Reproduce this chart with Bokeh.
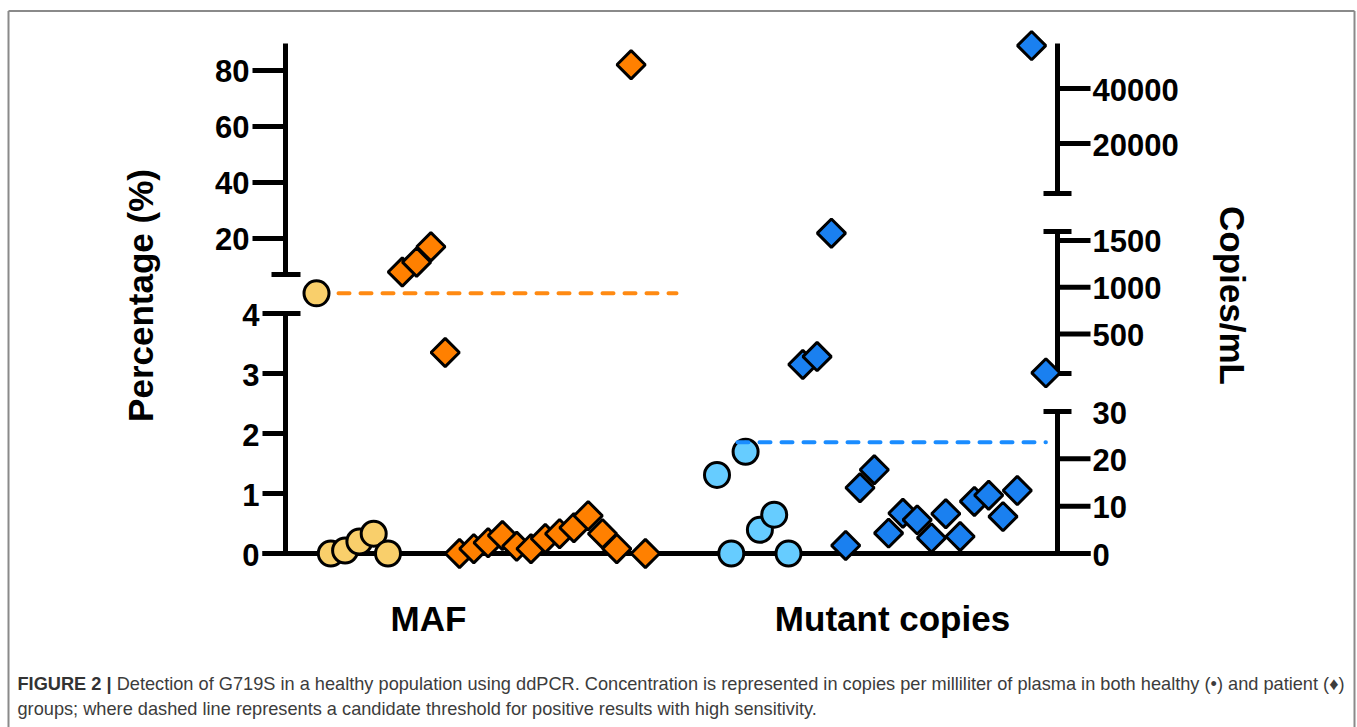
import numpy as np
from bokeh.plotting import figure
from bokeh.models import Range1d
from bokeh.core.properties import value
from bokeh.embed import file_html
from bokeh.resources import INLINE

# ---------------- data ----------------
maf_healthy = [5.6, 0.0, 0.05, 0.2, 0.33, 0.0]
maf_patient = [8.0, 11.5, 17.0, 3.35, 0.0, 0.08, 0.18, 0.3, 0.12, 0.08,
               0.25, 0.33, 0.43, 0.63, 0.33, 0.08, 82.0, 0.0]
copies_healthy = [16.6, 0.0, 21.5, 5.0, 8.2, 0.0]
copies_patient = [174, 259, 1578, 1.7, 13.9, 17.7, 4.3, 8.5, 7.1, 3.3,
                  8.4, 3.6, 11.0, 12.3, 7.8, 13.3, 55600, 85]
maf_threshold = 5.6
copies_threshold = 23.5
group_labels = ["MAF", "Mutant copies"]
left_ticks_low = [0, 1, 2, 3, 4]
left_ticks_high = [20, 40, 60, 80]
right_ticks_low = [0, 10, 20, 30]
right_ticks_mid = [500, 1000, 1500]
right_ticks_high = [20000, 40000]
left_title = "Percentage (%)"
right_title = "Copies/mL"
caption_bold = "FIGURE 2 |"
caption_line1 = ("Detection of G719S in a healthy population using ddPCR. Concentration is "
                 "represented in copies per milliliter of plasma in both healthy (\u2022) and patient (\u2666)")
caption_line2 = ("groups; where dashed line represents a candidate threshold for positive "
                 "results with high sensitivity.")

# ---------------- broken-axis scales (value -> page pixel) ----------------
LEFT_SEGMENTS = [(0, 4), (7.1, 89.6)]
LEFT_BREAK_VALS = [0, 4, 7.1, 89.6]
LEFT_BREAK_PX = [553, 313, 274, 43]
RIGHT_SEGMENTS = [(0, 30), (78, 1596), (1818, 56364)]
RIGHT_BREAK_VALS = [0, 30, 78, 1596, 1818, 56364]
RIGHT_BREAK_PX = [553, 411, 373, 231, 193, 43]


def ly(v):
    return np.interp(np.asarray(v, dtype=float), LEFT_BREAK_VALS, LEFT_BREAK_PX)


def ry(v):
    return np.interp(np.asarray(v, dtype=float), RIGHT_BREAK_VALS, RIGHT_BREAK_PX)


SLOT = 14.3
MAF_X0 = 316.0
COP_X0 = 716.5


def slots(x0, start, n):
    return [x0 + (start + i) * SLOT for i in range(n)]


W, H = 1357, 727
p = figure(width=W, height=H, x_range=Range1d(0, W), y_range=Range1d(H, 0),
           output_backend="svg", toolbar_location=None, min_border=0,
           x_axis_type=None, y_axis_type=None)
p.grid.visible = False
p.outline_line_color = None
p.background_fill_color = "white"
p.border_fill_color = "white"

FONT = value("Liberation Sans")
AX_X_L = 285
AX_X_R = 1057
LW = 5

# figure border
p.segment(x0=[8, 8, 1354], y0=[10.5, 10.5, 10.5], x1=[1354, 8, 1354], y1=[10.5, 727, 727],
          line_color="#8a8a8a", line_width=2)

# ---- left axis ----
for a, b in LEFT_SEGMENTS:
    p.segment(x0=[AX_X_L], y0=[float(ly(a))], x1=[AX_X_L], y1=[float(ly(b))],
              line_color="black", line_width=LW)
cap_l = [4, 7.1]
p.segment(x0=[AX_X_L - 14] * 2, y0=list(ly(cap_l)), x1=[AX_X_L + 15] * 2, y1=list(ly(cap_l)),
          line_color="black", line_width=LW)
p.segment(x0=[262] * len(left_ticks_low), y0=list(ly(left_ticks_low)),
          x1=[AX_X_L] * len(left_ticks_low), y1=list(ly(left_ticks_low)),
          line_color="black", line_width=LW)
p.segment(x0=[252] * len(left_ticks_high), y0=list(ly(left_ticks_high)),
          x1=[AX_X_L] * len(left_ticks_high), y1=list(ly(left_ticks_high)),
          line_color="black", line_width=LW)
p.text(x=[259] * len(left_ticks_low), y=list(ly(left_ticks_low) + 1),
       text=[str(t) for t in left_ticks_low], text_font=FONT, text_font_style="bold",
       text_font_size="31px", text_align="right", text_baseline="middle", text_color="black")
p.text(x=[249] * len(left_ticks_high), y=list(ly(left_ticks_high) + 1),
       text=[str(t) for t in left_ticks_high], text_font=FONT, text_font_style="bold",
       text_font_size="31px", text_align="right", text_baseline="middle", text_color="black")

# ---- right axis ----
for a, b in RIGHT_SEGMENTS:
    p.segment(x0=[AX_X_R], y0=[float(ry(a))], x1=[AX_X_R], y1=[float(ry(b))],
              line_color="black", line_width=LW)
cap_r = [30, 78, 1596, 1818]
p.segment(x0=[AX_X_R - 14] * 4, y0=list(ry(cap_r)), x1=[AX_X_R + 14] * 4, y1=list(ry(cap_r)),
          line_color="black", line_width=LW)
r_ticks = right_ticks_low[:-1] + right_ticks_mid + right_ticks_high
p.segment(x0=[AX_X_R] * len(r_ticks), y0=list(ry(r_ticks)),
          x1=[1090] * len(r_ticks), y1=list(ry(r_ticks)),
          line_color="black", line_width=LW)
r_labels = right_ticks_low + right_ticks_mid + right_ticks_high
p.text(x=[1092] * len(r_labels), y=list(ry(r_labels) + 1),
       text=[str(t) for t in r_labels], text_font=FONT, text_font_style="bold",
       text_font_size="31px", text_align="left", text_baseline="middle", text_color="black")

# ---- baseline (x axis) ----
p.segment(x0=[262], y0=[553], x1=[1090], y1=[553], line_color="black", line_width=LW)

# ---- axis titles & group labels ----
p.text(x=[140], y=[295], text=[left_title], angle=np.pi / 2, text_font=FONT,
       text_font_style="bold", text_font_size="35px", text_align="center",
       text_baseline="middle", text_color="black")
p.text(x=[1232], y=[295], text=[right_title], angle=-np.pi / 2, text_font=FONT,
       text_font_style="bold", text_font_size="35px", text_align="center",
       text_baseline="middle", text_color="black")
p.text(x=[428, 892], y=[618, 618], text=group_labels, text_font=FONT,
       text_font_style="bold", text_font_size="35px", text_align="center",
       text_baseline="middle", text_color="black")

# ---- MAF threshold (under the markers) ----
p.line(x=[MAF_X0, 676], y=[float(ly(maf_threshold))] * 2, line_color="#FF8A12",
       line_width=4, line_dash="11 11", line_cap="round")

# ---- markers ----
p.scatter(x=slots(MAF_X0, 0, len(maf_healthy)), y=list(ly(maf_healthy)), marker="circle",
          size=25, fill_color="#F9CF6B", line_color="black", line_width=3)
p.scatter(x=slots(MAF_X0, len(maf_healthy), len(maf_patient)), y=list(ly(maf_patient)),
          marker="square", angle=np.pi / 4, size=20, fill_color="#FF8000",
          line_color="black", line_width=3)
p.scatter(x=slots(COP_X0, 0, len(copies_healthy)), y=list(ry(copies_healthy)), marker="circle",
          size=25, fill_color="#66CCFF", line_color="black", line_width=3)
p.scatter(x=slots(COP_X0, len(copies_healthy), len(copies_patient)), y=list(ry(copies_patient)),
          marker="square", angle=np.pi / 4, size=20, fill_color="#1A80F0",
          line_color="black", line_width=3)

# ---- copies threshold (drawn over the markers, as in the reference) ----
p.line(x=[737, COP_X0 + 23 * SLOT], y=[float(ry(copies_threshold))] * 2, line_color="#1A8CFF",
       line_width=4, line_dash="11 11", line_cap="round")

# ---- caption ----
CAP_FS = 18.2
CAP_X = 17
bold_w = 5.17 * CAP_FS + 0.278 * CAP_FS
p.text(x=[CAP_X], y=[683], text=[caption_bold], text_font=FONT, text_font_style="bold",
       text_font_size=f"{CAP_FS}px", text_align="left", text_baseline="middle",
       text_color="#333333")
p.text(x=[CAP_X + bold_w], y=[683], text=[caption_line1], text_font=FONT,
       text_font_size=f"{CAP_FS}px", text_align="left", text_baseline="middle",
       text_color="#3c3c3c")
p.text(x=[CAP_X], y=[708], text=[caption_line2], text_font=FONT,
       text_font_size=f"{CAP_FS}px", text_align="left", text_baseline="middle",
       text_color="#3c3c3c")

open("out.html", "w").write(file_html(p, INLINE))
